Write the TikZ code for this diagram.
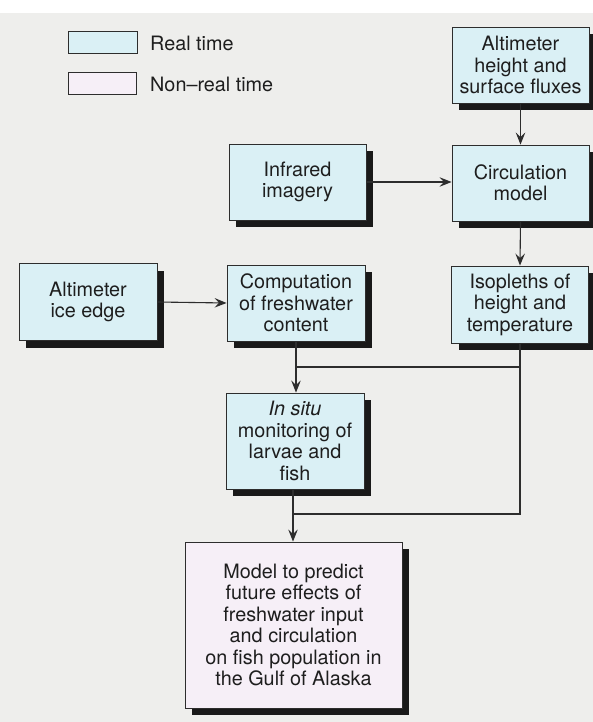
\documentclass[tikz,border=0pt]{standalone}
\usepackage{fontspec}
\setmainfont{TeX Gyre Heros}
\usetikzlibrary{arrows.meta,shadows}
\definecolor{bg}{RGB}{238,238,236}
\definecolor{rt}{RGB}{218,240,245}
\definecolor{nrt}{RGB}{246,239,247}
\definecolor{shd}{RGB}{25,25,25}
\definecolor{ln}{RGB}{45,45,45}
\definecolor{txt}{RGB}{30,30,30}
\tikzset{
  box/.style={draw=ln, line width=0.9pt, fill=rt, align=center, inner sep=0pt,
    text=txt, font=\fontsize{19.8}{21.5}\selectfont,
    general shadow={fill=shd, shadow xshift=7pt, shadow yshift=-7pt}},
  nbox/.style={box, fill=nrt},
  legbox/.style={draw=ln, line width=0.9pt, inner sep=0pt},
  legtext/.style={anchor=west, inner sep=0pt, text=txt, font=\fontsize{19.8}{21.5}\selectfont},
  arr/.style={draw=ln, line width=1.1pt, -{Stealth[length=12pt,width=9.5pt,inset=4.5pt]}},
  plain/.style={draw=ln, line width=1.1pt},
}
\begin{document}
\begin{tikzpicture}[x=1pt,y=-1pt]
\useasboundingbox (0,0) rectangle (593,722);
\fill[white] (0,0) rectangle (593,722);
\fill[bg] (0,13) rectangle (593,722);
% legend
\node[legbox, fill=rt, minimum width=69pt, minimum height=22pt] (lrt) at (102.5,42) {};
\node[legbox, fill=nrt, minimum width=68pt, minimum height=22pt] (lnrt) at (102,83) {};
\node[legtext] (lrtt) at (150,43) {Real time};
\node[legtext] (lnrtt) at (150,84) {Non--real time};
% boxes
\node[box, minimum width=137pt, minimum height=76pt] (alt) at (520.5,65) {Altimeter\\height and\\surface fluxes};
\node[box, minimum width=137pt, minimum height=76pt] (infra) at (297.5,182) {Infrared\\imagery};
\node[box, minimum width=137pt, minimum height=76pt] (circ) at (520.5,183) {Circulation\\model};
\node[box, minimum width=138pt, minimum height=77pt] (ice) at (88,302) {Altimeter\\ice edge};
\node[box, minimum width=138pt, minimum height=76pt] (comp) at (296,303) {Computation\\of freshwater\\content};
\node[box, minimum width=137pt, minimum height=77pt] (iso) at (520,304.5) {Isopleths of\\height and\\temperature};
\node[box, minimum width=138pt, minimum height=96pt] (insitu) at (295,441) {\textit{In situ}\\monitoring of\\larvae and\\fish};
\node[nbox, minimum width=217pt, minimum height=166pt] (model) at (293.5,625) {Model to predict\\future effects of\\freshwater input\\and circulation\\on fish population in\\the Gulf of Alaska};
% connectors
\coordinate (j1) at (296,367);
\coordinate (j2) at (293,514);
\draw[arr] (alt.south) -- (circ.north);
\draw[arr] (infra.east) -- (infra.east -| circ.west);
\draw[arr] (circ.south) -- (iso.north);
\draw[arr] (ice.east) -- (comp.west);
\draw[arr] (comp.south) -- (insitu.north -| comp.south);
\draw[plain] (j1) -- (j1 -| iso.south);
\draw[plain] (iso.south) -- (iso.south |- j2) -- (j2);
\draw[arr] (insitu.south -| j2) -- (model.north -| j2);
\end{tikzpicture}
\end{document}
